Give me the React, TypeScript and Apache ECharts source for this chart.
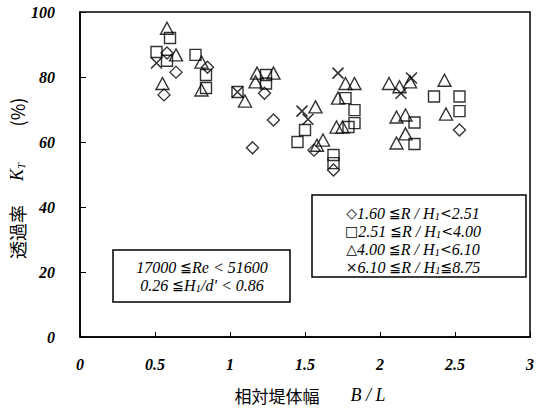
import React, { useEffect, useRef } from "react";
import * as echarts from "echarts";

// R/H1 groups: [B/L, KT(%)]
const diamondData: number[][] = [
  [0.58, 87.4], [0.64, 81.5], [0.56, 74.5], [0.85, 83], [1.23, 75],
  [1.29, 66.8], [1.15, 58.2], [1.56, 57.5], [1.69, 51.4], [2.53, 63.7],
];
const squareData: number[][] = [
  [0.6, 92], [0.51, 87.7], [0.58, 85], [0.77, 86.8], [0.84, 80.6], [0.84, 76.6],
  [1.05, 75.4], [1.24, 80.6], [1.24, 78], [1.5, 63.7], [1.45, 60], [1.69, 56],
  [1.69, 53.5], [1.77, 73.5], [1.83, 69.8], [1.83, 65.8], [1.79, 64.6],
  [2.36, 74], [2.53, 74], [2.53, 69.5], [2.23, 66], [2.23, 59.4],
];
const triangleData: number[][] = [
  [0.58, 95], [0.64, 86.8], [0.55, 78], [0.81, 84.6], [0.81, 76], [1.1, 72.6],
  [1.18, 81.2], [1.29, 81.2], [1.17, 78.5], [1.57, 70.8], [1.62, 60.6], [1.58, 59],
  [1.77, 78], [1.83, 78], [1.72, 73.5], [1.71, 64.6], [1.75, 64.6], [2.06, 78],
  [2.13, 77], [2.2, 78.5], [2.43, 79], [2.44, 68.6], [2.11, 67.7], [2.17, 68.3],
  [2.17, 62.5], [2.11, 59.7],
];
const crossData: number[][] = [
  [0.51, 84.3], [1.05, 75.4], [1.48, 69.5], [1.52, 67], [1.72, 81.2],
  [2.21, 79.7], [2.14, 75],
];

const legendLines = [
  { sym: "◇", lo: "1.60", op1: "≦", op2: "<", hi: "2.51" },
  { sym: "□", lo: "2.51", op1: "≦", op2: "<", hi: "4.00" },
  { sym: "△", lo: "4.00", op1: "≦", op2: "<", hi: "6.10" },
  { sym: "×", lo: "6.10", op1: "≦", op2: "≦", hi: "8.75" },
];

const SERIF = "'Liberation Serif', 'DejaVu Serif', serif";
const SYM = "'DejaVu Sans', 'Noto Sans CJK JP', sans-serif";
const CJK = "'Noto Sans CJK JP', 'Noto Sans', sans-serif";

export default function App() {
  const ref = useRef<HTMLDivElement>(null);

  useEffect(() => {
    if (!ref.current) return;
    const chart = echarts.init(ref.current, null, { renderer: "svg" });

    const rich = {
      sym: { fontFamily: SYM, fontSize: 14, fill: "#000", lineHeight: 16, verticalAlign: "middle" },
      i: { fontFamily: SERIF, fontStyle: "italic", fontSize: 16, fill: "#000", lineHeight: 16, verticalAlign: "middle" },
      op: { fontFamily: SYM, fontSize: 14, fill: "#000", lineHeight: 16, verticalAlign: "middle" },
      sub: { fontFamily: SERIF, fontStyle: "italic", fontSize: 11, fill: "#000", lineHeight: 16, verticalAlign: "bottom" },
      bi: { fontFamily: SERIF, fontStyle: "italic", fontSize: 18, fill: "#000", lineHeight: 18, verticalAlign: "middle" },
      bsub: { fontFamily: SERIF, fontStyle: "italic", fontSize: 11, fill: "#000", lineHeight: 18, verticalAlign: "bottom" },
    };

    const legendTexts = legendLines.map((l, k) => ({
      type: "text",
      x: 413,
      y: 213 + k * 18,
      z: 101,
      style: {
        text: `{sym|${l.sym}}{i|${l.lo} }{op|${l.op1}}{i|R / H}{sub|1}{op|${l.op2}}{i|${l.hi}}`,
        rich,
        align: "center",
        verticalAlign: "middle",
      },
    }));

    const symStyle = { color: "none", borderColor: "#000", borderWidth: 1.4 };

    chart.setOption({
      animation: false,
      grid: { left: 80, right: 4, top: 12, bottom: 71, show: true, borderColor: "#000", borderWidth: 1.5 },
      xAxis: {
        type: "value",
        min: 0,
        max: 3,
        interval: 0.5,
        axisLine: { show: true, lineStyle: { color: "#000", width: 1.5 } },
        axisTick: { show: true, inside: true, length: 5, lineStyle: { color: "#000" } },
        splitLine: { show: false },
        axisLabel: { margin: 19, color: "#000", fontFamily: SERIF, fontStyle: "italic", fontWeight: "bold", fontSize: 16 },
      },
      yAxis: {
        type: "value",
        min: 0,
        max: 100,
        interval: 20,
        axisLine: { show: true, lineStyle: { color: "#000", width: 1.5 } },
        axisTick: { show: true, inside: true, length: 6, lineStyle: { color: "#000" } },
        splitLine: { show: false },
        axisLabel: { margin: 25, color: "#000", fontFamily: SERIF, fontStyle: "italic", fontWeight: "bold", fontSize: 16 },
      },
      series: [
        { type: "scatter", name: "1.60≦R/H1<2.51", data: diamondData, symbol: "diamond", symbolSize: 12, itemStyle: symStyle },
        { type: "scatter", name: "2.51≦R/H1<4.00", data: squareData, symbol: "rect", symbolSize: 11, itemStyle: symStyle },
        { type: "scatter", name: "4.00≦R/H1<6.10", data: triangleData, symbol: "triangle", symbolSize: [13, 12], itemStyle: symStyle },
        { type: "scatter", name: "6.10≦R/H1≦8.75", data: crossData, symbol: "path://M0 0L10 10M10 0L0 10", symbolSize: 11, itemStyle: { color: "none", borderColor: "#000", borderWidth: 1.6 } },
      ],
      graphic: [
        {
          type: "rect",
          shape: { x: 312, y: 195, width: 214, height: 82 },
          style: { fill: "#fff", stroke: "#000", lineWidth: 1.5 },
          z: 100,
        },
        ...legendTexts,
        {
          type: "rect",
          shape: { x: 113, y: 250, width: 177, height: 52 },
          style: { fill: "#fff", stroke: "#000", lineWidth: 1.5 },
          z: 100,
        },
        {
          type: "text",
          x: 202,
          y: 267,
          z: 101,
          style: { text: "{i|17000 }{op|≦}{i|Re < 51600}", rich, align: "center", verticalAlign: "middle" },
        },
        {
          type: "text",
          x: 202,
          y: 285,
          z: 101,
          style: { text: "{i|0.26 }{op|≦}{i|H}{sub|1}{i|/d' < 0.86}", rich, align: "center", verticalAlign: "middle" },
        },
        {
          type: "text",
          x: 277,
          y: 395,
          style: { text: "相対堤体幅", fontFamily: CJK, fontSize: 17, fill: "#000", align: "center", verticalAlign: "middle" },
        },
        {
          type: "text",
          x: 368,
          y: 395,
          style: { text: "B / L", fontFamily: SERIF, fontStyle: "italic", fontSize: 18, fill: "#000", align: "center", verticalAlign: "middle" },
        },
        {
          type: "text",
          x: 17,
          y: 232,
          rotation: Math.PI / 2,
          style: { text: "透過率", fontFamily: CJK, fontSize: 18, fill: "#000", align: "center", verticalAlign: "middle" },
        },
        {
          type: "text",
          x: 17,
          y: 172,
          rotation: Math.PI / 2,
          style: { text: "{bi|K}{bsub|T}", rich, align: "center", verticalAlign: "middle" },
        },
        {
          type: "text",
          x: 17,
          y: 112,
          rotation: Math.PI / 2,
          style: { text: "(%)", fontFamily: CJK, fontSize: 18, fill: "#000", align: "center", verticalAlign: "middle" },
        },
      ],
    });

    return () => chart.dispose();
  }, []);

  return (
    <div
      ref={ref}
      style={{ position: "fixed", left: 0, top: 0, width: 537, height: 408, background: "#fff" }}
    />
  );
}
